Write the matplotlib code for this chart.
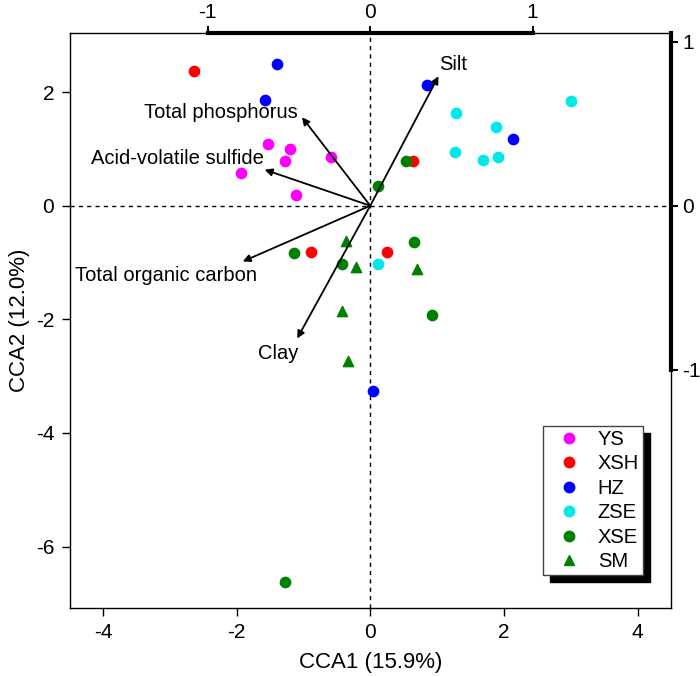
import numpy as np
import matplotlib
matplotlib.use('Agg')
import matplotlib.pyplot as plt
from matplotlib.lines import Line2D

plt.rcParams['font.family'] = ['Liberation Sans', 'DejaVu Sans']
plt.rcParams['font.size'] = 14
plt.rcParams['axes.unicode_minus'] = False

# sample scores (CCA1, CCA2)
ys_x = [-1.53, -1.20, -1.28, -0.58, -1.94, -1.11]
ys_y = [1.08, 0.99, 0.78, 0.85, 0.57, 0.19]

xsh_x = [-2.63, 0.64, -0.88, 0.25]
xsh_y = [2.37, 0.78, -0.81, -0.82]

hz_x = [-1.39, -1.57, 0.85, 2.14, 0.04]
hz_y = [2.49, 1.86, 2.13, 1.17, -3.26]

zse_x = [3.01, 1.28, 1.88, 1.27, 1.69, 1.91, 0.11]
zse_y = [1.85, 1.63, 1.39, 0.95, 0.80, 0.86, -1.03]

xse_x = [0.11, 0.54, 0.66, -1.14, -0.43, 0.93, -1.27]
xse_y = [0.34, 0.78, -0.64, -0.84, -1.02, -1.93, -6.63]

sm_x = [-0.36, -0.21, 0.70, -0.43, -0.33]
sm_y = [-0.62, -1.07, -1.12, -1.85, -2.73]

# environmental vectors (biplot units, top / right axes)
env_names = ['Total phosphorus', 'Acid-volatile sulfide', 'Total organic carbon', 'Clay', 'Silt']
env_x = [-0.42, -0.65, -0.785, -0.45, 0.42]
env_y = [0.54, 0.22, -0.34, -0.81, 0.79]

# label offsets in pixels from arrow tips, with alignment
lab_off = [(-4, 5, 'right'), (-1, 11, 'right'), (14, -14, 'right'), (1, -15, 'right'), (1, 12, 'left')]

sx = 2.43
sy = 2.885
xlim = (-4.5, 4.5)
ylim = (-7.08, 3.04)

fig = plt.figure(figsize=(7, 6.77), dpi=100)
rect = [69.5 / 700, 1 - 608 / 677, (671 - 69.5) / 700, (608 - 33) / 677]
ax = fig.add_axes(rect)
ax.set_xlim(xlim)
ax.set_ylim(ylim)

ax.axhline(0, color='k', lw=1, ls=(0, (3, 3)), zorder=1)
ax.axvline(0, color='k', lw=1, ls=(0, (3, 3)), zorder=1)

ms = 55
ax.scatter(ys_x, ys_y, s=ms, color='#ff00ff', marker='o', zorder=3)
ax.scatter(xsh_x, xsh_y, s=ms, color='#ff0000', marker='o', zorder=3)
ax.scatter(hz_x, hz_y, s=ms, color='#0000ff', marker='o', zorder=3)
ax.scatter(zse_x, zse_y, s=ms, color='#00e8e8', marker='o', zorder=3)
ax.scatter(xse_x, xse_y, s=ms, color='#008000', marker='o', zorder=3)
ax.scatter(sm_x, sm_y, s=ms, color='#008000', marker='^', zorder=3)

ax.set_xticks([-4, -2, 0, 2, 4])
ax.set_yticks([-6, -4, -2, 0, 2])
ax.tick_params(direction='out', length=6, width=1, pad=5, labelsize=15)
ax.set_xlabel('CCA1 (15.9%)', fontsize=16, labelpad=7)
ax.set_ylabel('CCA2 (12.0%)', fontsize=16, labelpad=4)
for s in ax.spines.values():
    s.set_linewidth(1)

# biplot axes on top
bx = fig.add_axes(rect, frameon=True)
bx.patch.set_visible(False)
bx.set_xlim(xlim[0] / sx, xlim[1] / sx)
bx.set_ylim(ylim[0] / sy, ylim[1] / sy)
bx.xaxis.tick_top()
bx.yaxis.tick_right()
bx.set_xticks([-1, 0, 1])
bx.set_yticks([-1, 0, 1])
bx.set_xticklabels(['-1', '0', '1'])
bx.set_yticklabels(['-1', '0', '1'])
bx.tick_params(direction='out', length=5, width=1.5, pad=3, labelsize=15)
bx.spines['left'].set_visible(False)
bx.spines['bottom'].set_visible(False)
bx.spines['top'].set_bounds(-1, 1)
bx.spines['right'].set_bounds(-1, ylim[1] / sy)
bx.spines['top'].set_linewidth(3)
bx.spines['right'].set_linewidth(3)

for name, ex, ey, (ox, oy, ha) in zip(env_names, env_x, env_y, lab_off):
    bx.annotate('', xy=(ex, ey), xytext=(0, 0),
                arrowprops=dict(arrowstyle='-|>', color='k', lw=1.3,
                                mutation_scale=11, shrinkA=0, shrinkB=0))
    bx.annotate(name, xy=(ex, ey), xytext=(ox, oy), textcoords='offset pixels',
                ha=ha, va='center', fontsize=14.5)

handles = [
    Line2D([], [], ls='', marker='o', ms=7.5, color='#ff00ff'),
    Line2D([], [], ls='', marker='o', ms=7.5, color='#ff0000'),
    Line2D([], [], ls='', marker='o', ms=7.5, color='#0000ff'),
    Line2D([], [], ls='', marker='o', ms=7.5, color='#00e8e8'),
    Line2D([], [], ls='', marker='o', ms=7.5, color='#008000'),
    Line2D([], [], ls='', marker='^', ms=7.5, color='#008000'),
]
labels = ['YS', 'XSH', 'HZ', 'ZSE', 'XSE', 'SM']
leg = bx.legend(handles, labels, loc='upper right', bbox_to_anchor=(0.9535, 0.3165),
                borderaxespad=0, fancybox=False, framealpha=1, edgecolor='#444444',
                handlelength=2.19, handletextpad=0.35, borderpad=0.2, labelspacing=0.27,
                fontsize=14.5,
                shadow={'ox': 5, 'oy': -5, 'color': 'black', 'alpha': 1})
leg.get_frame().set_linewidth(1)

fig.savefig('out.png', dpi=100)
